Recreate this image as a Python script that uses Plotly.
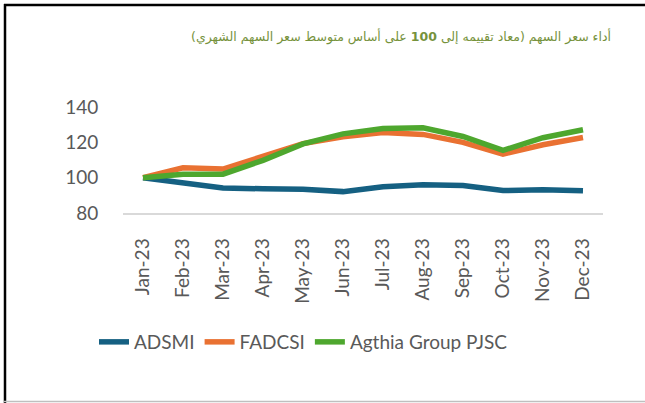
import plotly.graph_objects as go

months = ["Jan-23", "Feb-23", "Mar-23", "Apr-23", "May-23", "Jun-23",
          "Jul-23", "Aug-23", "Sep-23", "Oct-23", "Nov-23", "Dec-23"]
adsmi = [100, 96.8, 94.2, 93.7, 93.4, 92.1, 94.8, 96.0, 95.5, 92.7, 93.2, 92.6]
fadcsi = [100, 105.6, 104.9, 111.8, 119.3, 123.2, 125.5, 124.5, 120.0, 113.3, 118.6, 122.7]
agthia = [100, 101.9, 102.0, 109.8, 119.1, 124.8, 127.8, 128.2, 123.3, 115.4, 122.6, 127.1]
y_ticks = [80, 100, 120, 140]

title_text = "أداء سعر السهم (معاد تقييمه إلى <b>100</b> على أساس متوسط سعر السهم الشهري)"

FONT = "Lato, 'Noto Sans', 'DejaVu Sans', sans-serif"

fig = go.Figure()
series = [("ADSMI", adsmi, "#156082"), ("FADCSI", fadcsi, "#E97132"),
          ("Agthia Group PJSC", agthia, "#4EA72E")]
for name, vals, col in series:
    fig.add_trace(go.Scatter(x=months, y=vals, name=name, mode="lines",
                             line=dict(color=col, width=5.5)))

L, R, T, B = 123, 42, 107, 190
W, H = 645, 403
pw, ph = W - L - R, H - T - B

def px(x):
    return (x - L) / pw

def py(y):
    return (H - B - y) / ph

fig.update_layout(
    width=W, height=H,
    margin=dict(l=L, r=R, t=T, b=B),
    paper_bgcolor="white", plot_bgcolor="white",
    font=dict(family=FONT, color="#595959"),
    showlegend=True,
    legend=dict(orientation="h", x=px(94), xanchor="left", y=py(342), yanchor="middle",
                font=dict(size=19, color="#595959"), bgcolor="rgba(0,0,0,0)",
                itemwidth=30, tracegroupgap=0),
    xaxis=dict(type="category", range=[-0.5, 11.5], showgrid=False,
               showline=True, linecolor="#D9D9D9", linewidth=1.5,
               ticks="outside", ticklen=16, tickcolor="rgba(0,0,0,0)",
               tickangle=-90, tickfont=dict(size=19, color="#595959")),
    yaxis=dict(range=[80, 140], tickvals=y_ticks, showgrid=False, zeroline=False,
               showline=False, ticks="outside", ticklen=20, tickcolor="rgba(0,0,0,0)",
               tickfont=dict(size=19, color="#595959")),
    annotations=[dict(text=title_text, xref="paper", yref="paper",
                      x=px(613), y=py(37), xanchor="right", yanchor="middle",
                      showarrow=False,
                      font=dict(size=12.5, color="#76923C",
                                family="'DejaVu Sans', sans-serif"))],
    shapes=[
        dict(type="line", xref="paper", yref="paper", x0=px(4), x1=px(645),
             y0=py(5), y1=py(5), line=dict(color="black", width=2.5)),
        dict(type="line", xref="paper", yref="paper", x0=px(5), x1=px(5),
             y0=py(4), y1=py(403), line=dict(color="black", width=2.5)),
        dict(type="line", xref="paper", yref="paper", x0=px(4), x1=px(645),
             y0=py(401.5), y1=py(401.5), line=dict(color="#BFBFBF", width=1.5)),
    ],
)

fig.write_html("out.html", config={"displayModeBar": False},
               post_script="document.body.style.margin='0';")
